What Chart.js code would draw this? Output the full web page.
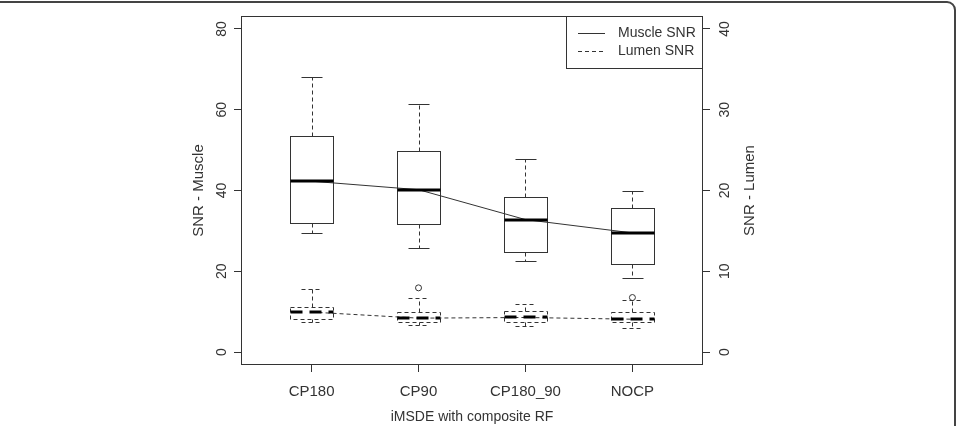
<!DOCTYPE html>
<html>
<head>
<meta charset="utf-8">
<script src="https://cdn.jsdelivr.net/npm/chart.js@4.4.1/dist/chart.umd.min.js"></script>
<style>
html, body { margin: 0; padding: 0; background: #fff; overflow: hidden; }
#wrap { position: relative; width: 957px; height: 426px; }
#frame { position: absolute; left: -20px; top: 1px; width: 976px; height: 500px; box-sizing: border-box; border: 2px solid #444; border-radius: 9px; }
canvas { position: absolute; left: 0; top: 0; }
</style>
</head>
<body>
<div id="wrap"><div id="frame"></div><canvas id="c" width="957" height="426"></canvas></div>
<script>
// groups on the x axis
var categories = ['CP180', 'CP90', 'CP180_90', 'NOCP'];

// muscle SNR (left axis): whisker ends, quartiles, medians
var muscleMin = [29.4, 25.8, 22.5, 18.3];
var muscleQ1 = [32.0, 31.6, 24.8, 21.9];
var muscleMed = [42.3, 40.2, 32.8, 29.5];
var muscleQ3 = [53.4, 49.9, 38.3, 35.6];
var muscleMax = [68.2, 61.5, 47.9, 39.8];

// lumen SNR (right axis)
var lumenMin = [3.74, 3.33, 3.25, 2.96];
var lumenQ1 = [4.07, 3.67, 3.74, 3.74];
var lumenMed = [4.95, 4.2, 4.28, 4.07];
var lumenQ3 = [5.64, 5.02, 5.1, 4.9];
var lumenMax = [7.86, 6.75, 6.0, 6.4];
var lumenOut = [[], [7.95], [], [6.75]];

var leftTicks = [0, 20, 40, 60, 80];
var rightTicks = [0, 10, 20, 30, 40];

var ink = '#333';
var family = '"Liberation Sans", Arial, sans-serif';

function crisp(v) { return Math.round(v) + 0.5; }

function line(ctx, x1, y1, x2, y2, dash) {
    ctx.setLineDash(dash || []);
    ctx.beginPath();
    ctx.moveTo(x1, y1);
    ctx.lineTo(x2, y2);
    ctx.stroke();
}

function drawBoxes(ctx, xs, ys, mn, q1, md, q3, mx, outs, dashed) {
    var d = [4, 3];
    for (var i = 0; i < categories.length; i++) {
        var cx = xs.getPixelForValue(i + 1);
        var l = crisp(xs.getPixelForValue(i + 0.8)), r = crisp(xs.getPixelForValue(i + 1.2));
        var cl = crisp(xs.getPixelForValue(i + 0.9)), cr = crisp(xs.getPixelForValue(i + 1.1));
        var c = crisp(cx);
        var yMin = crisp(ys.getPixelForValue(mn[i])), yQ1 = crisp(ys.getPixelForValue(q1[i]));
        var yQ3 = crisp(ys.getPixelForValue(q3[i])), yMax = crisp(ys.getPixelForValue(mx[i]));
        var yMed = Math.round(ys.getPixelForValue(md[i]));
        ctx.strokeStyle = ink;
        ctx.lineWidth = 1;
        // whiskers
        line(ctx, c, yQ3, c, yMax, d);
        line(ctx, c, yQ1, c, yMin, d);
        // staples
        line(ctx, cl, yMax, cr, yMax, dashed ? d : null);
        line(ctx, cl, yMin, cr, yMin, dashed ? d : null);
        // box
        ctx.setLineDash(dashed ? d : []);
        ctx.strokeRect(l, yQ3, r - l, yQ1 - yQ3);
        // median
        ctx.strokeStyle = '#000';
        ctx.lineWidth = 3;
        line(ctx, l, yMed, r, yMed, dashed ? [12, 7] : null);
        // outliers
        ctx.strokeStyle = ink;
        ctx.lineWidth = 1;
        ctx.setLineDash([]);
        (outs ? outs[i] : []).forEach(function (v) {
            ctx.beginPath();
            ctx.arc(cx, ys.getPixelForValue(v), 3, 0, Math.PI * 2);
            ctx.stroke();
        });
    }
    ctx.setLineDash([]);
}

function vtext(ctx, txt, x, y) {
    ctx.save();
    ctx.translate(x, y);
    ctx.rotate(-Math.PI / 2);
    ctx.fillText(txt, 0, 0);
    ctx.restore();
}

var boxPlugin = {
    id: 'boxes',
    afterDatasetsDraw: function (chart) {
        var ctx = chart.ctx, s = chart.scales;
        ctx.save();
        drawBoxes(ctx, s.x, s.y, muscleMin, muscleQ1, muscleMed, muscleQ3, muscleMax, null, false);
        drawBoxes(ctx, s.x, s.y1, lumenMin, lumenQ1, lumenMed, lumenQ3, lumenMax, lumenOut, true);
        ctx.restore();
    },
    afterDraw: function (chart) {
        var ctx = chart.ctx, a = chart.chartArea, s = chart.scales;
        ctx.save();
        ctx.strokeStyle = ink;
        ctx.lineWidth = 1;
        ctx.strokeRect(a.left + 0.5, a.top + 0.5, a.right - a.left - 1, a.bottom - a.top - 1);

        ctx.fillStyle = ink;
        ctx.font = '14px ' + family;
        ctx.textAlign = 'center';
        ctx.textBaseline = 'middle';
        leftTicks.forEach(function (v) { vtext(ctx, String(v), a.left - 19, s.y.getPixelForValue(v)); });
        rightTicks.forEach(function (v) { vtext(ctx, String(v), a.right + 22, s.y1.getPixelForValue(v)); });
        ctx.font = '15px ' + family;
        vtext(ctx, 'SNR - Muscle', a.left - 42, (a.top + a.bottom) / 2);
        vtext(ctx, 'SNR - Lumen', a.right + 47, (a.top + a.bottom) / 2);

        // legend, top right corner
        ctx.font = '14px ' + family;
        var lx = 566.5, ly = a.top + 0.5;
        ctx.strokeRect(lx, ly, a.right - 0.5 - lx, 52);
        ctx.textAlign = 'left';
        chart.data.datasets.forEach(function (ds, k) {
            var yy = crisp(a.top + 17 + k * 18);
            line(ctx, 578, yy, 605, yy, ds.borderDash);
            ctx.setLineDash([]);
            ctx.fillText(ds.label, 618, yy);
        });
        ctx.restore();
    }
};

function medianPoints(md) {
    return md.map(function (v, i) { return { x: i + 1, y: v }; });
}

new Chart(document.getElementById('c'), {
    type: 'scatter',
    data: {
        datasets: [{
            label: 'Muscle SNR',
            data: medianPoints(muscleMed),
            showLine: true,
            yAxisID: 'y',
            borderColor: ink,
            borderWidth: 1,
            borderDash: [],
            pointRadius: 0
        }, {
            label: 'Lumen SNR',
            data: medianPoints(lumenMed),
            showLine: true,
            yAxisID: 'y1',
            borderColor: ink,
            borderWidth: 1,
            borderDash: [4, 3],
            pointRadius: 0
        }]
    },
    options: {
        responsive: false,
        animation: false,
        devicePixelRatio: 1,
        layout: { padding: { left: 0, right: 0, top: 16, bottom: 0 } },
        plugins: { legend: { display: false }, tooltip: { enabled: false } },
        scales: {
            x: {
                type: 'linear',
                min: 0.34,
                max: 4.66,
                afterBuildTicks: function (sc) { sc.ticks = categories.map(function (c, i) { return { value: i + 1 }; }); },
                afterFit: function (sc) { sc.height = 61; },
                border: { display: false },
                grid: { drawOnChartArea: false, drawTicks: true, tickLength: 7, color: ink },
                ticks: {
                    autoSkip: false,
                    maxRotation: 0,
                    padding: 11,
                    color: ink,
                    font: { family: family, size: 15 },
                    callback: function (v) { return categories[v - 1]; }
                },
                title: {
                    display: true,
                    text: 'iMSDE with composite RF',
                    color: ink,
                    padding: { top: 0, bottom: 0 },
                    font: { family: family, size: 14 }
                }
            },
            y: {
                position: 'left',
                min: -3.2,
                max: 83.2,
                afterBuildTicks: function (sc) { sc.ticks = leftTicks.map(function (v) { return { value: v }; }); },
                afterFit: function (sc) { sc.width = 241; },
                border: { display: false },
                grid: { drawOnChartArea: false, drawTicks: true, tickLength: 7, color: ink },
                ticks: { display: false }
            },
            y1: {
                position: 'right',
                min: -1.6,
                max: 41.6,
                afterBuildTicks: function (sc) { sc.ticks = rightTicks.map(function (v) { return { value: v }; }); },
                afterFit: function (sc) { sc.width = 254; },
                border: { display: false },
                grid: { drawOnChartArea: false, drawTicks: true, tickLength: 7, color: ink },
                ticks: { display: false }
            }
        }
    },
    plugins: [boxPlugin]
});
</script>
</body>
</html>
